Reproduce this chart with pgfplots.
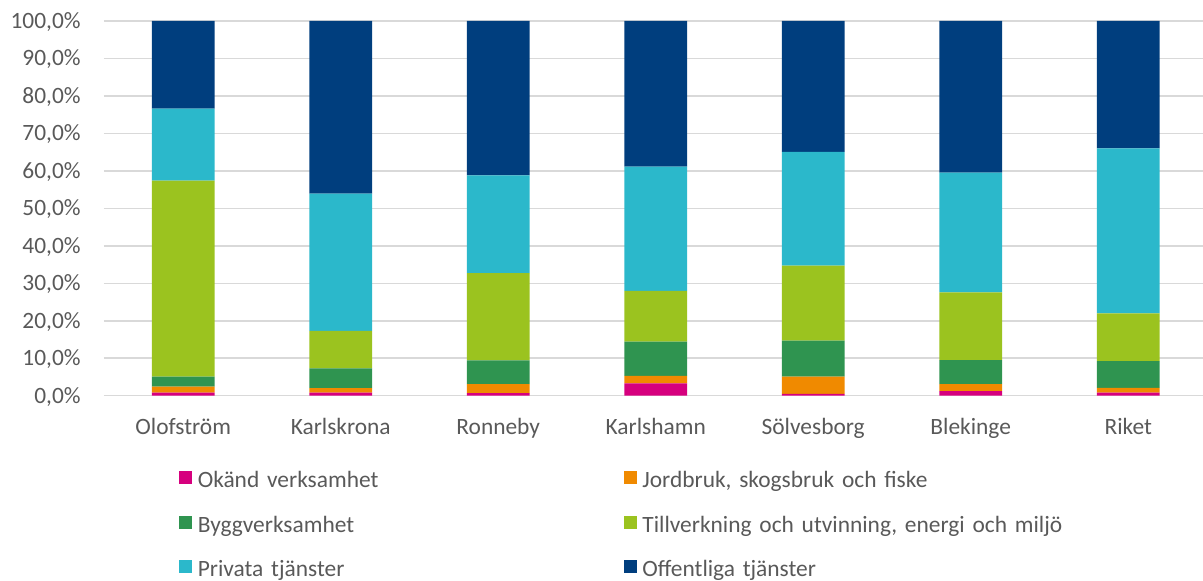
\documentclass[border=0pt]{standalone}
\usepackage{pgfplots}
\pgfplotsset{compat=1.18}
\usepackage{fontspec}
\setmainfont{Carlito}
\definecolor{cpink}{HTML}{D6007E}
\definecolor{corange}{HTML}{F08A00}
\definecolor{cdkgreen}{HTML}{2F9450}
\definecolor{cltgreen}{HTML}{9BC31F}
\definecolor{ccyan}{HTML}{2BB8CB}
\definecolor{cnavy}{HTML}{003E7E}
\definecolor{txtgray}{HTML}{595959}
\definecolor{gridgray}{HTML}{D9D9D9}
\pgfplotsset{mybar/.style={fill=#1, draw=none,
  legend image code/.code={\fill[fill=#1] (0pt,-1.1pt) rectangle (6.5pt,5.5pt);}}}
\begin{document}
\begin{tikzpicture}
\begin{axis}[name=ax, scale only axis, width=549.5pt, height=187.35pt,
  ybar stacked, bar width=31.3pt,
  xmin=-0.503, xmax=6.475, ymin=0, ymax=100,
  xtick={0,1,2,3,4,5,6},
  xticklabels={Olofström,Karlskrona,Ronneby,Karlshamn,Sölvesborg,Blekinge,Riket},
  ytick={0,10,20,30,40,50,60,70,80,90,100},
  yticklabels={{0,0\%},{10,0\%},{20,0\%},{30,0\%},{40,0\%},{50,0\%},{60,0\%},{70,0\%},{80,0\%},{90,0\%},{100,0\%}},
  ymajorgrids, grid style={draw=gridgray, line width=0.75pt},
  axis line style={draw=none}, major tick length=0pt,
  tick label style={font=\fontsize{11.7}{14}\selectfont, text=txtgray},
  xticklabel style={inner sep=0pt, text height=8pt, text depth=2.5pt, yshift=-11.3pt},
  yticklabel style={inner sep=0pt, text height=7.4pt, text depth=0pt, xshift=-11.5pt},
  legend columns=2, legend cell align=left,
  legend style={at={(0,0)}, anchor=north west, xshift=37.5pt, yshift=-37.8pt,
    draw=none, fill=none, inner sep=0pt, outer sep=0pt,
    column sep=2.9pt, row sep=11.4pt,
    font=\fontsize{11.7}{14}\selectfont, text=txtgray,
    nodes={inner sep=0pt, text height=8pt, text depth=2.5pt, text width=210pt, align=left}},
]
\addplot[mybar=cpink] coordinates {(0,0.8) (1,0.8) (2,0.7) (3,3.3) (4,0.5) (5,1.2) (6,0.8)};
\addlegendentry{Okänd verksamhet}
\addplot[mybar=corange] coordinates {(0,1.6) (1,1.2) (2,2.4) (3,2.0) (4,4.6) (5,1.9) (6,1.3)};
\addlegendentry{Jordbruk, skogsbruk och fiske}
\addplot[mybar=cdkgreen] coordinates {(0,2.7) (1,5.3) (2,6.3) (3,9.1) (4,9.6) (5,6.4) (6,7.1)};
\addlegendentry{Byggverksamhet}
\addplot[mybar=cltgreen] coordinates {(0,52.3) (1,10.0) (2,23.3) (3,13.6) (4,20.0) (5,18.1) (6,12.8)};
\addlegendentry{Tillverkning och utvinning, energi och miljö}
\addplot[mybar=ccyan] coordinates {(0,19.2) (1,36.6) (2,26.1) (3,33.1) (4,30.4) (5,31.9) (6,44.0)};
\addlegendentry{Privata tjänster}
\addplot[mybar=cnavy] coordinates {(0,23.4) (1,46.1) (2,41.2) (3,38.9) (4,34.9) (5,40.5) (6,34.0)};
\addlegendentry{Offentliga tjänster}
\end{axis}
\pgfresetboundingbox
\path (ax.south west) ++(-52pt,-92.65pt) rectangle ++(601.5pt,290.5pt);
\end{tikzpicture}
\end{document}
